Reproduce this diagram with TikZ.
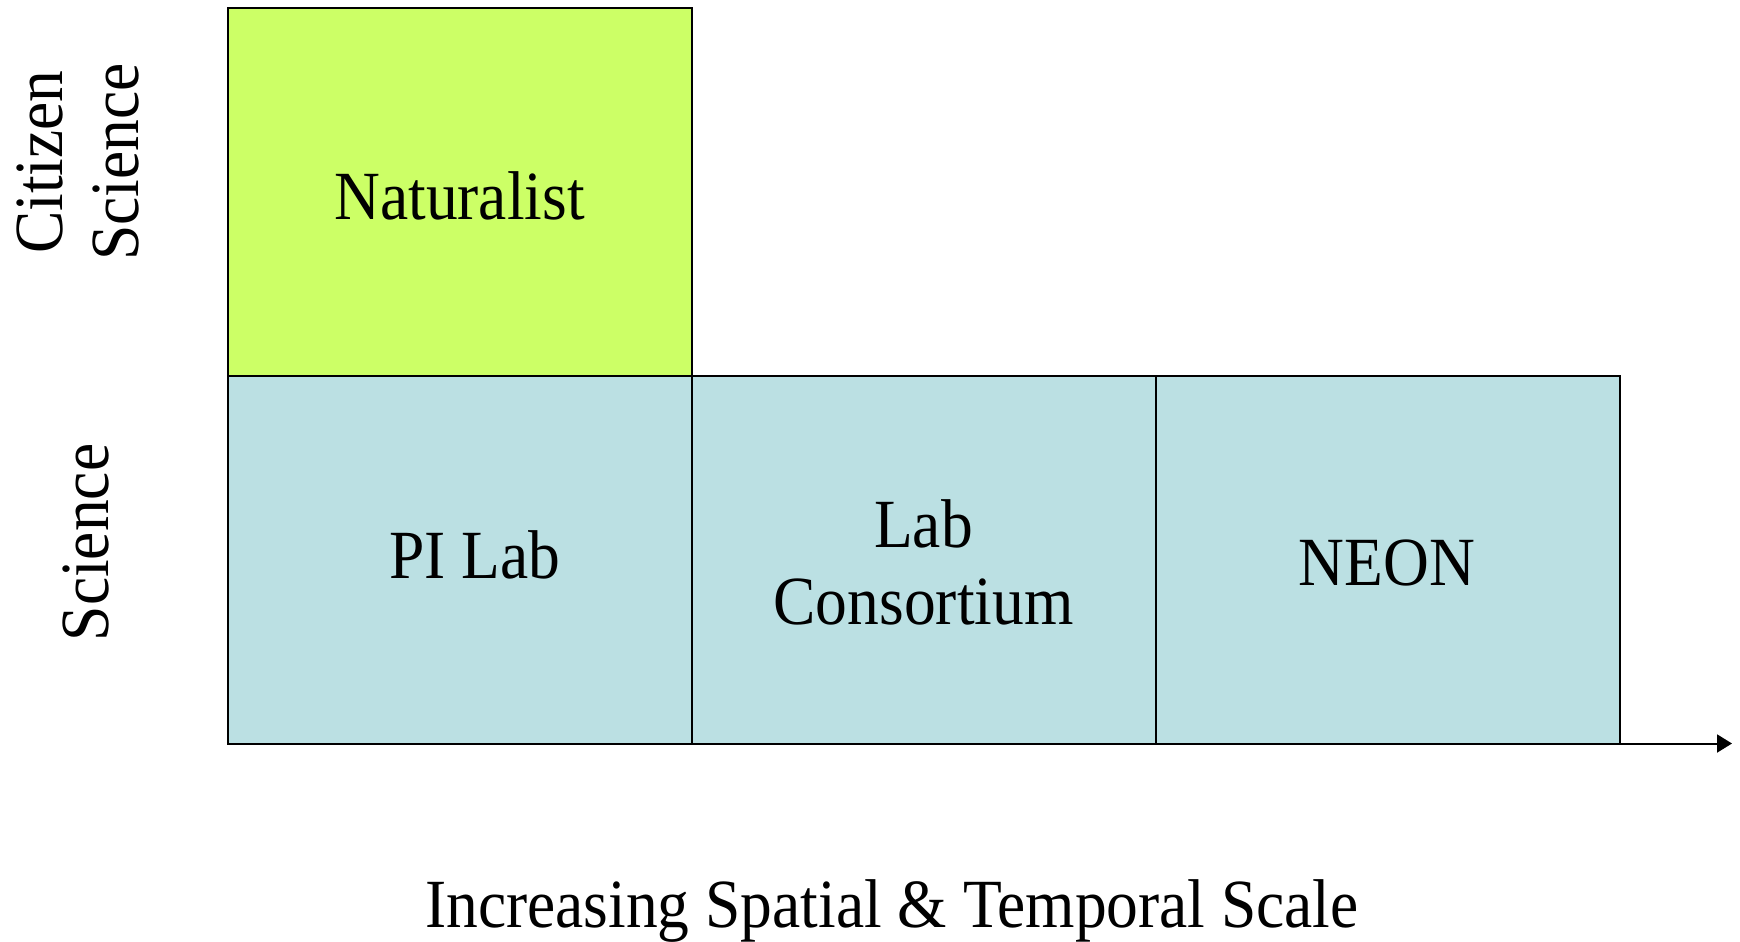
\documentclass[tikz,border=0pt]{standalone}
\usepackage{fontspec}
\setmainfont{Liberation Serif}[FakeStretch=0.92]
\usetikzlibrary{arrows.meta}
\definecolor{natgreen}{HTML}{CCFF66}
\definecolor{sciblue}{HTML}{BBE0E3}
\begin{document}
\begin{tikzpicture}[x=0.5pt,y=-0.5pt,
  cell/.style={draw=black, line width=1pt, minimum width=232pt, minimum height=183.75pt, inner sep=0pt, outer sep=0pt, anchor=north west},
  txt/.style={font=\fontsize{34.5}{38.3}\selectfont, align=center, inner sep=0pt}]
\useasboundingbox (0,0) rectangle (1740,942);
\node[cell, fill=natgreen, minimum height=184pt] (nat) at (227.5,8) {};
\node[cell, fill=sciblue] (pi) at (227.5,376) {};
\node[cell, fill=sciblue] (cons) at (691.5,376) {};
\node[cell, fill=sciblue] (neon) at (1155.5,376) {};
\node[txt] (natT) at (459.5,195.5) {Naturalist};
\node[txt] (piT) at (475,555) {PI Lab};
\node[txt] (consT) at (923.5,562.5) {Lab\\Consortium};
\node[txt] (neonT) at (1387,562.5) {NEON};
\node[txt, rotate=90] (cit) at (78,162) {Citizen\\Science};
\node[txt, rotate=90] (sci) at (86,542.5) {Science};
\node[txt] (xlab) at (892,911) {Increasing Spatial \& Temporal Scale};
\coordinate (axend) at (1732,743.5);
\draw[line width=1pt, -{Triangle[length=7.5pt,width=9pt]}] (pi.south west) -- (axend);
\end{tikzpicture}
\end{document}
